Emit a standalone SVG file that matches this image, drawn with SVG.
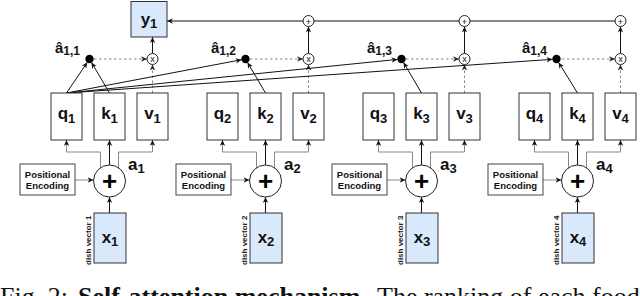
<svg xmlns="http://www.w3.org/2000/svg" width="640" height="296" viewBox="0 0 640 296">
<style>
.box{fill:#fff;stroke:#333;stroke-width:1}
.blue{fill:#dae8fc;stroke:#333;stroke-width:1}
.pe{fill:#fff;stroke:#444;stroke-width:1}
.t{font-family:"Liberation Sans",Arial,sans-serif;font-weight:bold;fill:#111}
.big{font-size:17px}
.sub{font-size:13px}
.hat{font-size:15px}
.hsub{font-size:12px}
.pet{font-size:9.5px}
.dv{font-family:"Liberation Sans",Arial,sans-serif;font-weight:bold;font-size:8px;fill:#222}
.ln{fill:none;stroke:#111;stroke-width:1}
.gl{fill:none;stroke:#888;stroke-width:1}
.dl{fill:none;stroke:#888;stroke-width:1;stroke-dasharray:2.5,2.5}
.op{fill:#fff;stroke:#222;stroke-width:1}
.dot{fill:#000}
.sm{font-family:"Liberation Sans",Arial,sans-serif;font-size:9px;fill:#111}
.plus{font-family:"Liberation Sans",Arial,sans-serif;font-weight:bold;font-size:26px;fill:#000}
.cap{font-family:"Liberation Serif","Times New Roman",serif;font-size:26px;fill:#111}
</style>
<defs>
<marker id="ab" viewBox="0 0 10 10" refX="10" refY="5" markerWidth="6" markerHeight="6" orient="auto" markerUnits="userSpaceOnUse"><path d="M0,0.5 L10,5 L0,9.5 L3,5 Z" fill="#111"/></marker>
<marker id="ag" viewBox="0 0 10 10" refX="10" refY="5" markerWidth="6" markerHeight="6" orient="auto" markerUnits="userSpaceOnUse"><path d="M0,0.5 L10,5 L0,9.5 L3,5 Z" fill="#222"/></marker>
</defs>

<g id="connectors">
  <line class="ln" x1="620.5" y1="21" x2="167" y2="21" marker-end="url(#ab)"/>
  <line class="ln" x1="152.5" y1="53.5" x2="152.5" y2="37" marker-end="url(#ab)"/>
  <line class="ln" x1="308.5" y1="53.5" x2="308.5" y2="26.5" marker-end="url(#ab)"/>
  <line class="ln" x1="464.5" y1="53.5" x2="464.5" y2="26.5" marker-end="url(#ab)"/>
  <line class="ln" x1="620.5" y1="53.5" x2="620.5" y2="26.5" marker-end="url(#ab)"/>
  <line class="dl" x1="94" y1="59" x2="147" y2="59" marker-end="url(#ag)"/>
  <line class="dl" x1="250" y1="59" x2="303" y2="59" marker-end="url(#ag)"/>
  <line class="dl" x1="406" y1="59" x2="459" y2="59" marker-end="url(#ag)"/>
  <line class="dl" x1="562" y1="59" x2="615" y2="59" marker-end="url(#ag)"/>
  <line class="dl" x1="152.5" y1="93" x2="152.5" y2="64.5" marker-end="url(#ag)"/>
  <line class="dl" x1="308.5" y1="93" x2="308.5" y2="64.5" marker-end="url(#ag)"/>
  <line class="dl" x1="464.5" y1="93" x2="464.5" y2="64.5" marker-end="url(#ag)"/>
  <line class="dl" x1="620.5" y1="93" x2="620.5" y2="64.5" marker-end="url(#ag)"/>
  <line class="ln" x1="66.5" y1="93" x2="87.3" y2="62.3" marker-end="url(#ab)"/>
  <line class="ln" x1="66.5" y1="93" x2="241.6" y2="59.7" marker-end="url(#ab)"/>
  <line class="ln" x1="66.5" y1="93" x2="397.5" y2="59.4" marker-end="url(#ab)"/>
  <line class="ln" x1="66.5" y1="93" x2="552.5" y2="59.3" marker-end="url(#ab)"/>
  <line class="ln" x1="109.5" y1="93" x2="91.5" y2="62.4" marker-end="url(#ab)"/>
  <line class="ln" x1="265.5" y1="93" x2="247.5" y2="62.4" marker-end="url(#ab)"/>
  <line class="ln" x1="421.5" y1="93" x2="403.5" y2="62.4" marker-end="url(#ab)"/>
  <line class="ln" x1="577.5" y1="93" x2="558.6" y2="62.5" marker-end="url(#ab)"/>
  <g>
    <path class="gl" d="M100.5,168 V152 H66.5 V140" marker-end="url(#ab)"/>
    <path class="gl" d="M118.5,168 V152 H152.5 V140" marker-end="url(#ab)"/>
    <line class="ln" x1="109.5" y1="165" x2="109.5" y2="140" marker-end="url(#ab)"/>
    <line class="ln" x1="109.5" y1="213" x2="109.5" y2="197" marker-end="url(#ab)"/>
    <line class="gl" x1="75" y1="180" x2="93.5" y2="180" marker-end="url(#ab)"/>
  </g>
  <g>
    <path class="gl" d="M256.5,168 V152 H222.5 V140" marker-end="url(#ab)"/>
    <path class="gl" d="M274.5,168 V152 H308.5 V140" marker-end="url(#ab)"/>
    <line class="ln" x1="265.5" y1="165" x2="265.5" y2="140" marker-end="url(#ab)"/>
    <line class="ln" x1="265.5" y1="213" x2="265.5" y2="197" marker-end="url(#ab)"/>
    <line class="gl" x1="231" y1="180" x2="249.5" y2="180" marker-end="url(#ab)"/>
  </g>
  <g>
    <path class="gl" d="M412.5,168 V152 H378.5 V140" marker-end="url(#ab)"/>
    <path class="gl" d="M430.5,168 V152 H464.5 V140" marker-end="url(#ab)"/>
    <line class="ln" x1="421.5" y1="165" x2="421.5" y2="140" marker-end="url(#ab)"/>
    <line class="ln" x1="421.5" y1="213" x2="421.5" y2="197" marker-end="url(#ab)"/>
    <line class="gl" x1="387" y1="180" x2="405.5" y2="180" marker-end="url(#ab)"/>
  </g>
  <g>
    <path class="gl" d="M568.5,168 V152 H534.5 V140" marker-end="url(#ab)"/>
    <path class="gl" d="M586.5,168 V152 H620.5 V140" marker-end="url(#ab)"/>
    <line class="ln" x1="577.5" y1="165" x2="577.5" y2="140" marker-end="url(#ab)"/>
    <line class="ln" x1="577.5" y1="213" x2="577.5" y2="197" marker-end="url(#ab)"/>
    <line class="gl" x1="543" y1="180" x2="561.5" y2="180" marker-end="url(#ab)"/>
  </g>
</g>

<g id="y1"><rect class="blue" x="131" y="1.5" width="36" height="35.5"/><text class="t big" x="149" y="25" text-anchor="middle">y<tspan class="sub" dy="3">1</tspan></text></g>

<g id="sum2"><circle class="op" cx="308.5" cy="21" r="5.5"/><text class="sm" x="308.5" y="24.5" text-anchor="middle">+</text></g>
<g id="sum3"><circle class="op" cx="464.5" cy="21" r="5.5"/><text class="sm" x="464.5" y="24.5" text-anchor="middle">+</text></g>
<g id="sum4"><circle class="op" cx="620.5" cy="21" r="5.5"/><text class="sm" x="620.5" y="24.5" text-anchor="middle">+</text></g>

<g id="mul1"><circle class="op" cx="152.5" cy="59" r="5.5"/><text class="sm" x="152.5" y="62" text-anchor="middle">x</text></g>
<g id="mul2"><circle class="op" cx="308.5" cy="59" r="5.5"/><text class="sm" x="308.5" y="62" text-anchor="middle">x</text></g>
<g id="mul3"><circle class="op" cx="464.5" cy="59" r="5.5"/><text class="sm" x="464.5" y="62" text-anchor="middle">x</text></g>
<g id="mul4"><circle class="op" cx="620.5" cy="59" r="5.5"/><text class="sm" x="620.5" y="62" text-anchor="middle">x</text></g>

<g id="a11"><circle class="dot" cx="89.5" cy="59" r="4.2"/><text class="t hat" x="55" y="53">â<tspan class="hsub" dy="2">1,1</tspan></text></g>
<g id="a12"><circle class="dot" cx="245.5" cy="59" r="4.2"/><text class="t hat" x="211" y="53">â<tspan class="hsub" dy="2">1,2</tspan></text></g>
<g id="a13"><circle class="dot" cx="401.5" cy="59" r="4.2"/><text class="t hat" x="367" y="53">â<tspan class="hsub" dy="2">1,3</tspan></text></g>
<g id="a14"><circle class="dot" cx="556.5" cy="59" r="4.2"/><text class="t hat" x="522" y="53">â<tspan class="hsub" dy="2">1,4</tspan></text></g>

<g id="q1"><rect class="box" x="51" y="93" width="31" height="47"/><text class="t big" x="66.5" y="119" text-anchor="middle">q<tspan class="sub" dy="4">1</tspan></text></g>
<g id="k1"><rect class="box" x="94" y="93" width="31" height="47"/><text class="t big" x="109.5" y="119" text-anchor="middle">k<tspan class="sub" dy="4">1</tspan></text></g>
<g id="v1"><rect class="box" x="137" y="93" width="31" height="47"/><text class="t big" x="152.5" y="119" text-anchor="middle">v<tspan class="sub" dy="4">1</tspan></text></g>
<g id="pe1"><rect class="pe" x="20" y="164" width="55" height="31"/><text class="t pet" x="47.5" y="177.5" text-anchor="middle">Positional</text><text class="t pet" x="47.5" y="188.5" text-anchor="middle">Encoding</text></g>
<g id="add1"><circle class="op" cx="109.5" cy="181" r="16"/><text class="plus" x="109.5" y="190" text-anchor="middle">+</text><text class="t big" x="128" y="170">a<tspan class="sub" dy="3">1</tspan></text></g>
<g id="x1"><rect class="blue" x="94" y="213" width="32" height="50"/><text class="t big" x="110" y="243" text-anchor="middle">x<tspan class="sub" dy="3">1</tspan></text><text class="dv" transform="translate(91,265) rotate(-90)">dish vector 1</text></g>

<g id="q2"><rect class="box" x="207" y="93" width="31" height="47"/><text class="t big" x="222.5" y="119" text-anchor="middle">q<tspan class="sub" dy="4">2</tspan></text></g>
<g id="k2"><rect class="box" x="250" y="93" width="31" height="47"/><text class="t big" x="265.5" y="119" text-anchor="middle">k<tspan class="sub" dy="4">2</tspan></text></g>
<g id="v2"><rect class="box" x="293" y="93" width="31" height="47"/><text class="t big" x="308.5" y="119" text-anchor="middle">v<tspan class="sub" dy="4">2</tspan></text></g>
<g id="pe2"><rect class="pe" x="176" y="164" width="55" height="31"/><text class="t pet" x="203.5" y="177.5" text-anchor="middle">Positional</text><text class="t pet" x="203.5" y="188.5" text-anchor="middle">Encoding</text></g>
<g id="add2"><circle class="op" cx="265.5" cy="181" r="16"/><text class="plus" x="265.5" y="190" text-anchor="middle">+</text><text class="t big" x="284" y="170">a<tspan class="sub" dy="3">2</tspan></text></g>
<g id="x2"><rect class="blue" x="250" y="213" width="32" height="50"/><text class="t big" x="266" y="243" text-anchor="middle">x<tspan class="sub" dy="3">2</tspan></text><text class="dv" transform="translate(247,265) rotate(-90)">dish vector 2</text></g>

<g id="q3"><rect class="box" x="363" y="93" width="31" height="47"/><text class="t big" x="378.5" y="119" text-anchor="middle">q<tspan class="sub" dy="4">3</tspan></text></g>
<g id="k3"><rect class="box" x="406" y="93" width="31" height="47"/><text class="t big" x="421.5" y="119" text-anchor="middle">k<tspan class="sub" dy="4">3</tspan></text></g>
<g id="v3"><rect class="box" x="449" y="93" width="31" height="47"/><text class="t big" x="464.5" y="119" text-anchor="middle">v<tspan class="sub" dy="4">3</tspan></text></g>
<g id="pe3"><rect class="pe" x="332" y="164" width="55" height="31"/><text class="t pet" x="359.5" y="177.5" text-anchor="middle">Positional</text><text class="t pet" x="359.5" y="188.5" text-anchor="middle">Encoding</text></g>
<g id="add3"><circle class="op" cx="421.5" cy="181" r="16"/><text class="plus" x="421.5" y="190" text-anchor="middle">+</text><text class="t big" x="440" y="170">a<tspan class="sub" dy="3">3</tspan></text></g>
<g id="x3"><rect class="blue" x="406" y="213" width="32" height="50"/><text class="t big" x="422" y="243" text-anchor="middle">x<tspan class="sub" dy="3">3</tspan></text><text class="dv" transform="translate(403,265) rotate(-90)">dish vector 3</text></g>

<g id="q4"><rect class="box" x="519" y="93" width="31" height="47"/><text class="t big" x="534.5" y="119" text-anchor="middle">q<tspan class="sub" dy="4">4</tspan></text></g>
<g id="k4"><rect class="box" x="562" y="93" width="31" height="47"/><text class="t big" x="577.5" y="119" text-anchor="middle">k<tspan class="sub" dy="4">4</tspan></text></g>
<g id="v4"><rect class="box" x="605" y="93" width="31" height="47"/><text class="t big" x="620.5" y="119" text-anchor="middle">v<tspan class="sub" dy="4">4</tspan></text></g>
<g id="pe4"><rect class="pe" x="488" y="164" width="55" height="31"/><text class="t pet" x="515.5" y="177.5" text-anchor="middle">Positional</text><text class="t pet" x="515.5" y="188.5" text-anchor="middle">Encoding</text></g>
<g id="add4"><circle class="op" cx="577.5" cy="181" r="16"/><text class="plus" x="577.5" y="190" text-anchor="middle">+</text><text class="t big" x="596" y="170">a<tspan class="sub" dy="3">4</tspan></text></g>
<g id="x4"><rect class="blue" x="562" y="213" width="32" height="50"/><text class="t big" x="578" y="243" text-anchor="middle">x<tspan class="sub" dy="3">4</tspan></text><text class="dv" transform="translate(559,265) rotate(-90)">dish vector 4</text></g>

<g id="caption">
<text class="cap" x="0" y="304.5">Fig. 2:</text>
<text class="cap" x="78" y="304.5" font-weight="bold">Self-attention mechanism.</text>
<text class="cap" x="377" y="304.5">The ranking of each food</text>
</g>
</svg>
